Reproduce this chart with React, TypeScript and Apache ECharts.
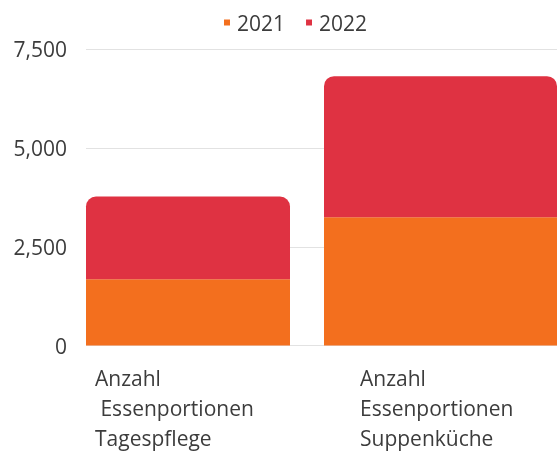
import React, { useEffect, useRef } from "react";
import * as echarts from "echarts";

const categories = ["Anzahl\n Essenportionen\nTagespflege", "Anzahl\nEssenportionen\nSuppenküche"];
const years = ["2021", "2022"];
const values2021 = [1680, 3250];
const values2022 = [2090, 3570];
const yMin = 0;
const yMax = 7500;
const yInterval = 2500;

const colors: Record<string, string> = { "2021": "#F36F1E", "2022": "#DF3242" };
const barWidths = [204, 233];
const FONT = "Open Sans";
const TEXT = "#3c3c3c";
const OFF = 100; // inner canvas is shifted left by this many px
const INNER_W = 800;

export default function App() {
  const ref = useRef<HTMLDivElement>(null);
  useEffect(() => {
    if (!ref.current) return;
    const chart = echarts.init(ref.current, undefined, { renderer: "svg" });
    const top = 49.3;
    const bottom = 107.5;
    const seriesValues: Record<string, number[]> = { "2021": values2021, "2022": values2022 };
    const series: any[] = [];
    categories.forEach((_, ci) => {
      years.forEach((y, yi) => {
        series.push({
          name: y,
          type: "bar",
          xAxisIndex: 1 + ci,
          yAxisIndex: 1,
          stack: "s" + ci,
          barWidth: barWidths[ci],
          itemStyle: {
            color: colors[y],
            borderRadius: yi === years.length - 1 ? [10, 10, 0, 0] : 0,
          },
          data: categories.map((__, k) => (k === ci ? seriesValues[y][k] : "-")),
        });
      });
    });
    const yBase = { type: "value", min: yMin, max: yMax, interval: yInterval };
    chart.setOption({
      animation: false,
      textStyle: { fontFamily: FONT },
      legend: {
        data: years,
        left: 224 + OFF,
        top: 12,
        padding: 0,
        icon: "rect",
        itemWidth: 6,
        itemHeight: 6,
        itemGap: 21,
        textStyle: { fontSize: 21, color: TEXT, fontFamily: FONT, padding: [0, 0, 0, 2] },
      },
      grid: [
        { left: 86 + OFF, width: 557 - 86, top, bottom },
        { left: 61.75 + OFF, width: 505, top, bottom },
        { left: -37.5 + OFF, width: 530, top, bottom },
      ],
      xAxis: [
        { type: "category", gridIndex: 0, data: categories, show: false },
        { type: "category", gridIndex: 1, data: categories, show: false },
        { type: "category", gridIndex: 1, data: categories, show: false },
        {
          type: "category",
          gridIndex: 2,
          data: categories,
          axisLine: { show: false },
          axisTick: { show: false },
          axisLabel: {
            interval: 0,
            align: "left",
            fontSize: 21,
            lineHeight: 30,
            margin: 20,
            color: TEXT,
            fontFamily: FONT,
          },
        },
      ],
      yAxis: [
        {
          ...yBase,
          gridIndex: 0,
          axisLine: { show: false },
          axisTick: { show: false },
          axisLabel: {
            fontSize: 21,
            color: TEXT,
            margin: 19,
            fontFamily: FONT,
            formatter: (v: number) => v.toLocaleString("en-US"),
          },
          splitLine: { lineStyle: { color: "#e2e2e2", width: 1 } },
        },
        { ...yBase, gridIndex: 1, show: false },
        { ...yBase, gridIndex: 2, show: false },
      ],
      series,
    });
    return () => chart.dispose();
  }, []);
  return (
    <div style={{ position: "fixed", left: 0, top: 0, width: 557, height: 453, overflow: "hidden" }}>
      <div ref={ref} style={{ position: "absolute", left: -OFF, top: 0, width: INNER_W, height: 453 }} />
    </div>
  );
}
